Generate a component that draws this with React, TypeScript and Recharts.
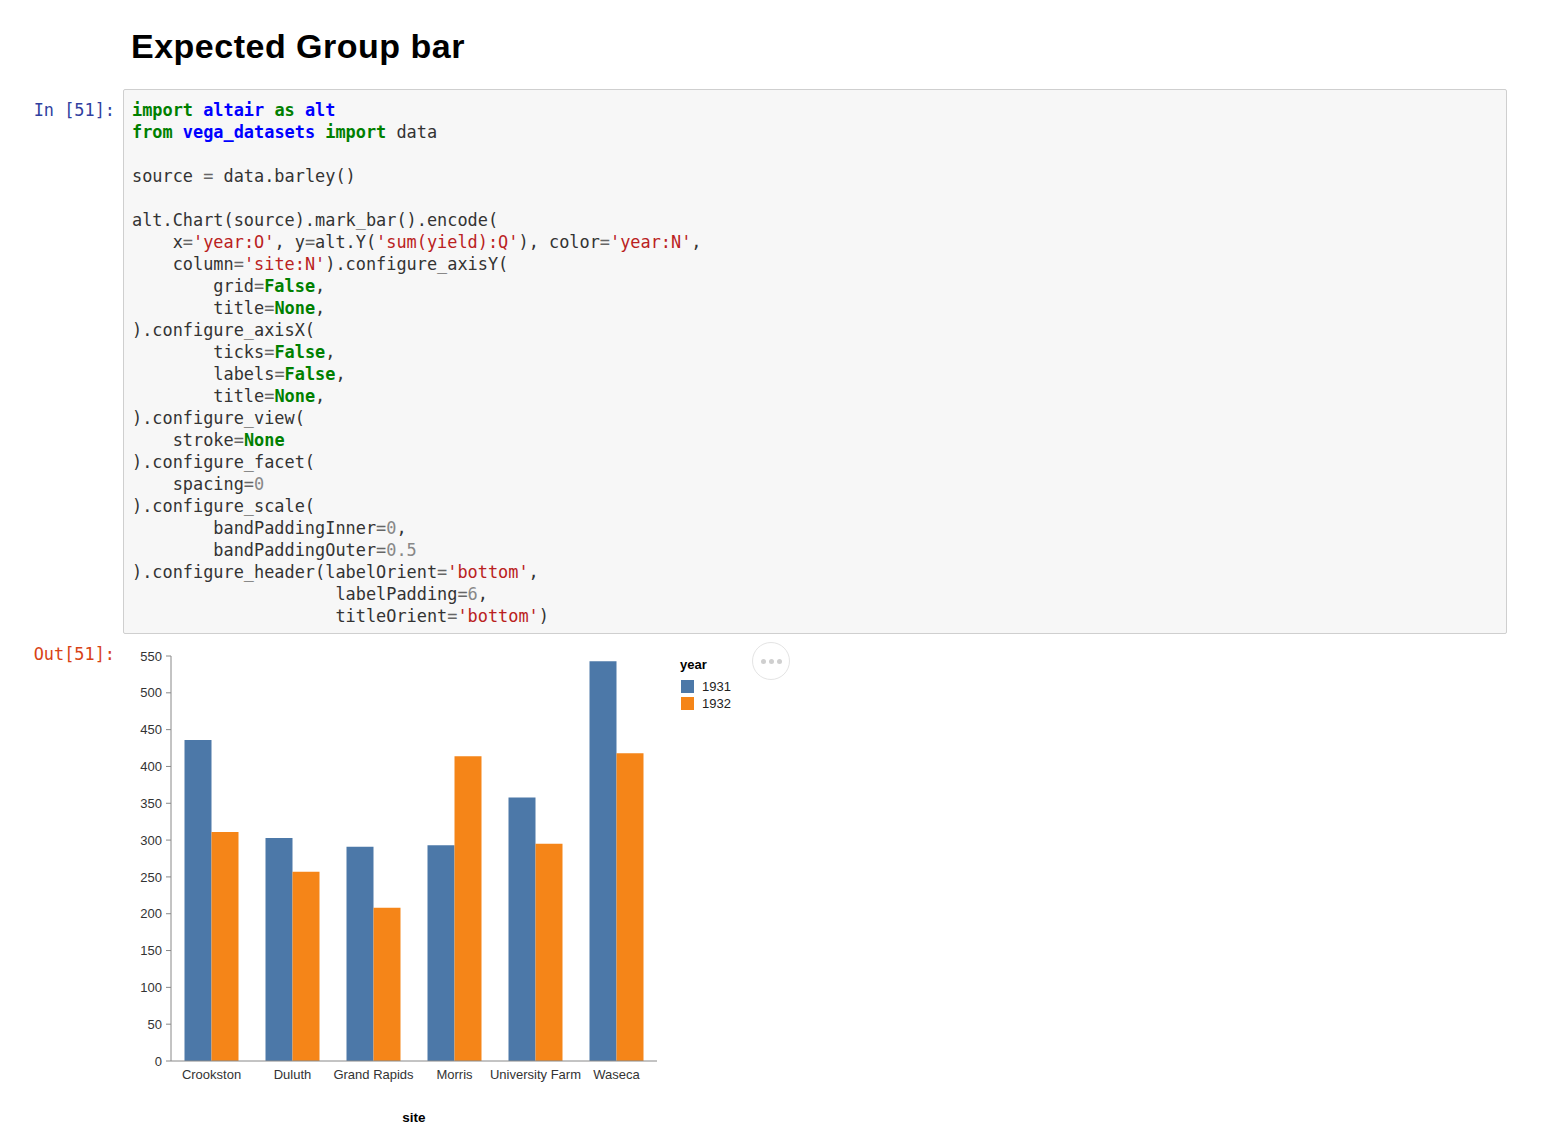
import React from "react";
import { BarChart, Bar, XAxis, YAxis, Legend } from "recharts";

const sites = ["Crookston", "Duluth", "Grand Rapids", "Morris", "University Farm", "Waseca"];
const yield1931 = [436, 303, 291, 293, 358, 543];
const yield1932 = [311, 257, 208, 414, 295, 418];
const yTicks = [0, 50, 100, 150, 200, 250, 300, 350, 400, 450, 500, 550];
const years = ["1931", "1932"];
const colors = ["#4c78a8", "#f58518"];

const codeLines: [string, string][][] = [
  [["kw", "import"], ["", " "], ["mod", "altair"], ["", " "], ["kw", "as"], ["", " "], ["mod", "alt"]],
  [["kw", "from"], ["", " "], ["mod", "vega_datasets"], ["", " "], ["kw", "import"], ["", " data"]],
  [],
  [["", "source "], ["op", "="], ["", " data.barley()"]],
  [],
  [["", "alt.Chart(source).mark_bar().encode("]],
  [["", "    x"], ["op", "="], ["str", "'year:O'"], ["", ", y"], ["op", "="], ["", "alt.Y("], ["str", "'sum(yield):Q'"], ["", "), color"], ["op", "="], ["str", "'year:N'"], ["", ","]],
  [["", "    column"], ["op", "="], ["str", "'site:N'"], ["", ").configure_axisY("]],
  [["", "        grid"], ["op", "="], ["kw", "False"], ["", ","]],
  [["", "        title"], ["op", "="], ["kw", "None"], ["", ","]],
  [["", ").configure_axisX("]],
  [["", "        ticks"], ["op", "="], ["kw", "False"], ["", ","]],
  [["", "        labels"], ["op", "="], ["kw", "False"], ["", ","]],
  [["", "        title"], ["op", "="], ["kw", "None"], ["", ","]],
  [["", ").configure_view("]],
  [["", "    stroke"], ["op", "="], ["kw", "None"]],
  [["", ").configure_facet("]],
  [["", "    spacing"], ["op", "="], ["num", "0"]],
  [["", ").configure_scale("]],
  [["", "        bandPaddingInner"], ["op", "="], ["num", "0"], ["", ","]],
  [["", "        bandPaddingOuter"], ["op", "="], ["num", "0.5"]],
  [["", ").configure_header(labelOrient"], ["op", "="], ["str", "'bottom'"], ["", ","]],
  [["", "                    labelPadding"], ["op", "="], ["num", "6"], ["", ","]],
  [["", "                    titleOrient"], ["op", "="], ["str", "'bottom'"], ["", ")"]],
];

const tokenStyle: Record<string, React.CSSProperties> = {
  "": { color: "#333" },
  kw: { color: "#008000", fontWeight: "bold" },
  mod: { color: "#0000ff", fontWeight: "bold" },
  str: { color: "#ba2121" },
  op: { color: "#666" },
  num: { color: "#888" },
};

const data = sites.map((site, i) => ({ site, y1931: yield1931[i], y1932: yield1932[i] }));

const mono = "'DejaVu Sans Mono', monospace";
const sans = "'Liberation Sans', Arial, sans-serif";

const YearLegend = () => (
  <div style={{ fontFamily: sans, fontSize: 13, color: "#222" }}>
    <div style={{ fontWeight: "bold", color: "#000", height: 21, lineHeight: "15px" }}>year</div>
    {years.map((y, i) => (
      <div key={y} style={{ display: "flex", alignItems: "center", height: 17 }}>
        <span style={{ width: 13, height: 13, background: colors[i], display: "inline-block", marginLeft: 1, marginRight: 8 }} />
        <span>{y}</span>
      </div>
    ))}
  </div>
);

export default function App() {
  return (
    <div style={{ position: "absolute", left: 0, top: 0, width: 1553, height: 1131, background: "#fff" }}>
      <div style={{ position: "absolute", left: 131, top: 29, fontFamily: sans, fontWeight: "bold", fontSize: 34, lineHeight: "34px", letterSpacing: 0.5, color: "#000" }}>
        Expected Group bar
      </div>

      <div style={{ position: "absolute", left: 0, top: 99, width: 115, textAlign: "right", fontFamily: mono, fontSize: 16.9, lineHeight: "22px", color: "#303f9f" }}>
        In [51]:
      </div>

      <div style={{ position: "absolute", left: 123, top: 89, width: 1382, height: 543, background: "#f7f7f7", border: "1px solid #cfcfcf", borderRadius: 2 }}>
        <pre style={{ margin: 0, position: "absolute", left: 8, top: 9, fontFamily: mono, fontSize: 16.9, lineHeight: "22px" }}>
          {codeLines.map((line, li) => (
            <div key={li} style={{ height: 22 }}>
              {line.map(([t, s], ti) => (
                <span key={ti} style={tokenStyle[t]}>{s}</span>
              ))}
            </div>
          ))}
        </pre>
      </div>

      <div style={{ position: "absolute", left: 0, top: 643, width: 115, textAlign: "right", fontFamily: mono, fontSize: 16.9, lineHeight: "22px", color: "#d84315" }}>
        Out[51]:
      </div>

      <div style={{ position: "absolute", left: 120, top: 640 }}>
        <BarChart
          width={700}
          height={491}
          data={data}
          margin={{ top: 16, right: 163, bottom: 9, left: 11 }}
          barCategoryGap="16.667%"
          barGap={0}
        >
          <XAxis
            dataKey="site"
            height={61}
            tickLine={false}
            axisLine={{ stroke: "#888" }}
            tick={{ fontSize: 13, fill: "#333", fontFamily: sans }}
            tickSize={5}
            tickMargin={4}
            interval={0}
            label={{ value: "site", position: "insideBottom", offset: 0, fontSize: 13.5, fontWeight: "bold", fill: "#000", fontFamily: sans }}
          />
          <YAxis
            width={40}
            domain={[0, 550]}
            ticks={yTicks}
            interval={0}
            axisLine={{ stroke: "#888" }}
            tickLine={{ stroke: "#888" }}
            tickSize={5}
            tickMargin={4}
            tick={{ fontSize: 13, fill: "#333", fontFamily: sans }}
          />
          <Legend
            layout="vertical"
            verticalAlign="middle"
            align="center"
            content={() => <YearLegend />}
            wrapperStyle={{ position: "absolute", left: 560, top: 17, width: 80 }}
          />
          <Bar dataKey="y1931" name="1931" fill={colors[0]} isAnimationActive={false} />
          <Bar dataKey="y1932" name="1932" fill={colors[1]} isAnimationActive={false} />
        </BarChart>
      </div>

      <div style={{ position: "absolute", left: 752, top: 642, width: 36, height: 36, borderRadius: "50%", border: "1px solid #e4e4e4", display: "flex", alignItems: "center", justifyContent: "center", gap: 3 }}>
        {[0, 1, 2].map(i => (
          <span key={i} style={{ width: 5, height: 5, borderRadius: "50%", background: "#cfcfcf", display: "inline-block" }} />
        ))}
      </div>
    </div>
  );
}
